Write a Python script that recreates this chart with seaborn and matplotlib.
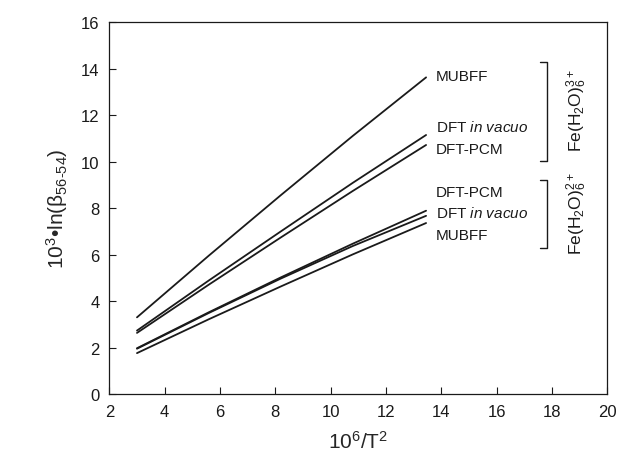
import matplotlib
matplotlib.use("Agg")
import matplotlib.pyplot as plt
import numpy as np
import pandas as pd
import seaborn as sns

# x values (10^6/T^2) where the curves were read
x_vals = [3.0, 5.6, 8.2, 10.8, 13.45]

# Fe(H2O)6 3+
mubff_3 = [3.30, 5.96, 8.56, 11.11, 13.63]
dft_vac_3 = [2.73, 4.89, 7.00, 9.09, 11.15]
dft_pcm_3 = [2.63, 4.71, 6.74, 8.74, 10.72]
# Fe(H2O)6 2+
dft_pcm_2 = [1.97, 3.52, 5.02, 6.47, 7.89]
dft_vac_2 = [1.95, 3.49, 4.97, 6.37, 7.67]
mubff_2 = [1.76, 3.22, 4.63, 6.01, 7.36]

series = {
    "MUBFF 3+": mubff_3,
    "DFT in vacuo 3+": dft_vac_3,
    "DFT-PCM 3+": dft_pcm_3,
    "DFT-PCM 2+": dft_pcm_2,
    "DFT in vacuo 2+": dft_vac_2,
    "MUBFF 2+": mubff_2,
}

# curve labels: (text, y position)
labels = [
    ("MUBFF", 13.7),
    ("DFT $\\it{in\\ vacuo}$", 11.5),
    ("DFT-PCM", 10.55),
    ("DFT-PCM", 8.7),
    ("DFT $\\it{in\\ vacuo}$", 7.8),
    ("MUBFF", 6.85),
]

x_ticks = [2, 4, 6, 8, 10, 12, 14, 16, 18, 20]
y_ticks = [0, 2, 4, 6, 8, 10, 12, 14, 16]

df = pd.concat(
    [pd.DataFrame({"x": x_vals, "y": v, "series": k}) for k, v in series.items()],
    ignore_index=True,
)

sns.set_theme(style="ticks")
plt.rcParams["font.family"] = ["Liberation Sans", "DejaVu Sans"]
plt.rcParams["mathtext.fontset"] = "custom"
plt.rcParams["mathtext.rm"] = "Liberation Sans"
plt.rcParams["mathtext.it"] = "Liberation Sans:italic"
plt.rcParams["mathtext.bf"] = "Liberation Sans:bold"

fig = plt.figure(figsize=(6.19, 4.60), dpi=100)
ax = fig.add_axes([0.1766, 0.1413, 0.8045, 0.808])

sns.lineplot(data=df, x="x", y="y", units="series", estimator=None,
             color="#1a1a1a", lw=1.3, ax=ax, legend=False)

for text, yy in labels:
    ax.text(13.8, yy, text, fontsize=11, va="center", ha="left", color="#1a1a1a")

# brackets
def bracket(y0, y1):
    ax.plot([17.55, 17.83, 17.83, 17.55], [y1, y1, y0, y0], color="#1a1a1a", lw=1.0)

bracket(10.03, 14.29)
bracket(6.28, 9.21)
ax.text(18.9, 12.25, "Fe(H$_2$O)$_6^{3+}$", rotation=90, ha="center", va="center",
        fontsize=12.5, color="#1a1a1a")
ax.text(18.9, 7.8, "Fe(H$_2$O)$_6^{2+}$", rotation=90, ha="center", va="center",
        fontsize=12.5, color="#1a1a1a")

ax.set_xlim(2, 20)
ax.set_ylim(0, 16)
ax.set_xticks(x_ticks)
ax.set_yticks(y_ticks)
ax.tick_params(direction="in", length=5, width=0.8, labelsize=12, colors="#1a1a1a",
               top=False, right=False, pad=7)
for s in ax.spines.values():
    s.set_visible(True)
    s.set_linewidth(0.9)
    s.set_color("#1a1a1a")

ax.set_xlabel("10$^6$/T$^2$", fontsize=15, labelpad=8)
ax.set_ylabel("10$^3$•ln(β$_{56\\text{-}54}$)", fontsize=15, labelpad=8)

fig.savefig("out.png", dpi=100)
